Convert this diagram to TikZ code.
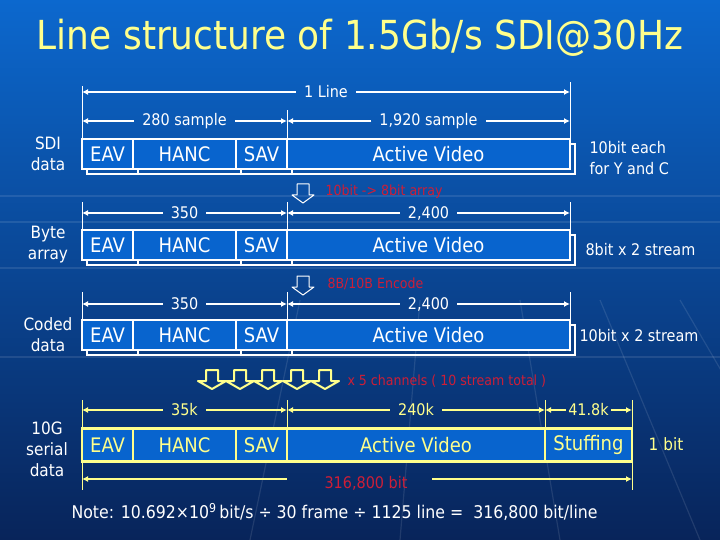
\documentclass[tikz,border=0pt]{standalone}
\usepackage{fontspec}
\setmainfont{DejaVu Sans Condensed}
\usetikzlibrary{arrows.meta,positioning,calc}

\definecolor{bgtop}{RGB}{12,104,206}
\definecolor{bgbot}{RGB}{8,36,90}
\definecolor{cellblue}{RGB}{8,100,206}
\definecolor{sdiyellow}{RGB}{255,255,140}
\definecolor{sdired}{RGB}{205,30,55}

\tikzset{
  cell/.style={draw=white, line width=2.4pt, fill=cellblue, text=white,
    minimum height=30pt, inner sep=0pt, outer sep=0pt,
    font=\fontsize{20}{24}\selectfont},
  ycell/.style={cell, draw=sdiyellow, text=sdiyellow, minimum height=33pt},
  dimtext/.style={text=white, inner xsep=8pt, inner ysep=0pt,
    font=\fontsize{16}{19}\selectfont},
  ydimtext/.style={dimtext, text=sdiyellow},
  dimline/.style={white, line width=1.5pt, -{Latex[length=6pt,width=6pt]}},
  ydimline/.style={dimline, sdiyellow},
  ext/.style={white, line width=0.9pt},
  yext/.style={ext, sdiyellow},
  rowlabel/.style={text=white, align=center, font=\fontsize{17}{21}\selectfont},
  sidenote/.style={text=white, align=left, anchor=west,
    font=\fontsize{16}{21}\selectfont},
  redcap/.style={text=sdired, anchor=west, font=\fontsize{14}{17}\selectfont},
  grid/.style={white, opacity=0.10, line width=1.2pt},
}

\begin{document}
\begin{tikzpicture}[x=1pt, y=-1pt]
  \useasboundingbox (0,0) rectangle (720,540);
  \shade[top color=bgtop, bottom color=bgbot] (0,0) rectangle (720,540);
  % faint background grid
  \foreach \gy in {196,222,268,357}
    \draw[grid] (0,\gy) -- (720,\gy);
  \foreach \gx/\gb in {300/250,420/400,520/560,600/700,680/820}
    \draw[grid] (\gx,300) -- (\gb,540);

  % title
  \node[text=sdiyellow, font=\fontsize{40}{46}\selectfont] (title) at (360,38)
       {Line structure of 1.5Gb/s SDI@30Hz};

  % 1 Line
  \coordinate (linel) at (82,92);
  \coordinate (liner) at (570,92);
  \node[dimtext] (line) at ($(linel)!.5!(liner)$) {1 Line};
  \draw[dimline] (line.west) -- (linel);
  \draw[dimline] (line.east) -- (liner);

  % three white rows
  \foreach \r/\y/\d/\lab/\ta/\tb in {a/154/121/{SDI\\data}/{280 sample}/{1,920 sample},
                                     b/245/213/{Byte\\array}/{350}/{2,400},
                                     c/335/304/{Coded\\data}/{350}/{2,400}}{
    \begin{scope}[shift={(5pt,-5pt)}]     % shadow
      \draw[white, line width=2pt] (82,\y-15) rectangle (570,\y+15);
      \foreach \x in {133,236,287}
        \draw[white, line width=2pt] (\x,\y-15) -- (\x,\y+15);
    \end{scope}
    \node[cell, minimum width=51pt, anchor=west] (eav\r) at (82,\y) {EAV};
    \node[cell, minimum width=103pt, right=0pt of eav\r] (hanc\r) {HANC};
    \node[cell, minimum width=51pt, right=0pt of hanc\r] (sav\r) {SAV};
    \node[cell, minimum width=283pt, right=0pt of sav\r] (act\r) {Active Video};
    \node[rowlabel] (lab\r) at (48,\y) {\lab};
    % dimensions
    \coordinate (l\r) at (82,\d);
    \coordinate (m\r) at (287,\d);
    \coordinate (e\r) at (570,\d);
    \node[dimtext] (ta\r) at ($(l\r)!.5!(m\r)$) {\ta};
    \node[dimtext] (tb\r) at ($(m\r)!.5!(e\r)$) {\tb};
    \draw[dimline] (ta\r.west) -- (l\r);
    \draw[dimline] (ta\r.east) -- (m\r);
    \draw[dimline] (tb\r.west) -- (m\r);
    \draw[dimline] (tb\r.east) -- (e\r);
  }

  % extension lines
  \draw[ext] (eava.north west) -- ++(0,-53);
  \draw[ext] (sava.north east) -- ++(0,-29);
  \draw[ext] (acta.north east) -- ++(0,-57);
  \foreach \r in {b,c}{
    \draw[ext] (eav\r.north west) -- ++(0,-28);
    \draw[ext] (sav\r.north east) -- ++(0,-28);
    \draw[ext] (act\r.north east) -- ++(0,-28);
  }

  % side notes
  \node[sidenote] (noa) at (586,158) {10bit each\\for Y and C};
  \node[sidenote] (nob) at (582,250) {8bit x 2 stream};
  \node[sidenote] (noc) at (576,336) {10bit x 2 stream};

  % conversion steps
  \foreach \yy in {184,276}
    \draw[white, line width=1pt, line join=round]
      (297,\yy) -- (297,\yy+11) -- (292,\yy+11) -- (303,\yy+19)
      -- (314,\yy+11) -- (309,\yy+11) -- (309,\yy) -- cycle;
  \node[redcap] (conv) at (322,192) {10bit -> 8bit array};
  \node[redcap] (enc) at (324,284) {8B/10B Encode};

  \foreach \cx in {212,240,268,297,325}
    \draw[sdiyellow, line width=2pt, line join=round]
      (\cx-6,370) -- (\cx-6,381) -- (\cx-14,381) -- (\cx,389)
      -- (\cx+14,381) -- (\cx+6,381) -- (\cx+6,370) -- cycle;
  \node[redcap] (chan) at (344,381) {x 5 channels ( 10 stream total )};

  % 10G serial row
  \node[ycell, minimum width=51pt, anchor=west] (eavd) at (82,445) {EAV};
  \node[ycell, minimum width=103pt, right=0pt of eavd] (hancd) {HANC};
  \node[ycell, minimum width=51pt, right=0pt of hancd] (savd) {SAV};
  \node[ycell, minimum width=258pt, right=0pt of savd] (actd) {Active Video};
  \node[ycell, minimum width=87pt, right=0pt of actd] (stuff) {Stuffing};
  \node[rowlabel] (labd) at (47,449) {10G\\serial\\data};
  \node[text=sdiyellow, font=\fontsize{17}{21}\selectfont] (onebit) at (666,444) {1 bit};

  \coordinate (ld) at (82,410);
  \coordinate (md) at (287,410);
  \coordinate (nd) at (545,410);
  \coordinate (ed) at (632,410);
  \node[ydimtext] (tad) at ($(ld)!.5!(md)$) {35k};
  \node[ydimtext] (tbd) at ($(md)!.5!(nd)$) {240k};
  \node[ydimtext, inner xsep=2pt] (tcd) at ($(nd)!.5!(ed)$) {41.8k};
  \draw[ydimline] (tad.west) -- (ld);
  \draw[ydimline] (tad.east) -- (md);
  \draw[ydimline] (tbd.west) -- (md);
  \draw[ydimline] (tbd.east) -- (nd);
  \draw[ydimline] (tcd.west) -- (nd);
  \draw[ydimline] (tcd.east) -- (ed);

  \draw[yext] (eavd.north west) -- ++(0,-29);
  \draw[yext] (savd.north east) -- ++(0,-29);
  \draw[yext] (actd.north east) -- ++(0,-29);
  \draw[yext] (stuff.north east) -- ++(0,-29);
  \draw[yext] (eavd.south west) -- ++(0,28);
  \draw[yext] (stuff.south east) -- ++(0,28);

  % total bits
  \coordinate (bl) at (82,479);
  \coordinate (bm) at (287,479);
  \coordinate (bn) at (432,479);
  \coordinate (br) at (632,479);
  \draw[ydimline] (bm) -- (bl);
  \draw[ydimline] (bn) -- (br);
  \node[text=sdired, font=\fontsize{16}{19}\selectfont] (total) at (366,483) {316,800 bit};

  % note
  \node[sidenote, font=\fontsize{17.5}{21}\selectfont] (note) at (68,512)
       {Note: 10.692×10\textsuperscript{9}\,bit/s ÷ 30 frame ÷ 1125 line =\ \ 316,800 bit/line};
\end{tikzpicture}
\end{document}
